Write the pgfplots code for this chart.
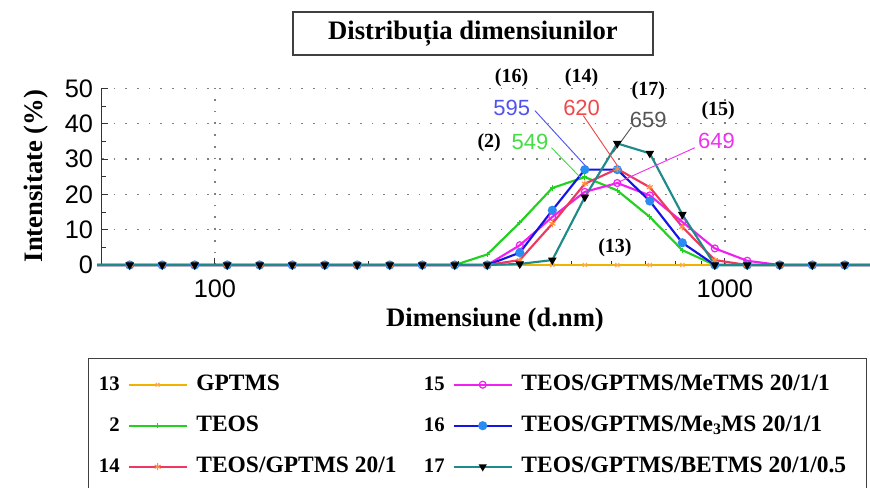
\documentclass[border=0pt]{standalone}
\usepackage{pgfplots}
\usepackage{pgfplotstable}
\pgfplotsset{compat=1.18}
\usepackage{fontspec}
\setmainfont{Liberation Serif}
\newfontfamily\arial{Liberation Sans}

\definecolor{cGPTMS}{HTML}{F2B300}
\definecolor{cGPTMSm}{HTML}{FFA860}
\definecolor{cTEOS}{HTML}{22D022}
\definecolor{cT14}{HTML}{EE3860}
\definecolor{cT14m}{HTML}{FF8A40}
\definecolor{cT15}{HTML}{F020F0}
\definecolor{cT16}{HTML}{1414E6}
\definecolor{cT16m}{HTML}{2A8CF0}
\definecolor{cT17}{HTML}{1F8A8A}
\definecolor{a595}{HTML}{5252EE}
\definecolor{a620}{HTML}{F04848}
\definecolor{a659}{HTML}{555555}
\definecolor{a649}{HTML}{EE33EE}
\definecolor{a549}{HTML}{44DD44}

% legend sample: sample number, short line and one mark
\pgfplotsset{
  numleg/.style={legend image code/.code={%
      \node[anchor=base east, inner sep=0pt, text height=, text depth=,
            font=\fontsize{15.5}{16}\selectfont\bfseries, text=black] at (-6pt,-4pt) {#1};
      \draw[mark repeat=2, mark phase=2, ##1] plot coordinates {(0pt,0pt) (21.75pt,0pt) (43.5pt,0pt)};
      \path (50pt,0pt);
  }},
  pl/.style={line width=1.6pt, mark indices={2,...,24}},
}
\tikzset{numleg/.style={}}

% intensity (%) per size class (d.nm)
\pgfplotstableread{
d      s13 s2    s14   s15   s16   s17
58.77  0   0     0     0     0     0
68.06  0   0     0     0     0     0
78.82  0   0     0     0     0     0
91.28  0   0     0     0     0     0
105.7  0   0     0     0     0     0
122.4  0   0     0     0     0     0
141.8  0   0     0     0     0     0
164.2  0   0     0     0     0     0
190.1  0   0     0     0     0     0
220.2  0   0     0     0     0     0
255.0  0   0     0     0     0     0
295.3  0   0     0     0     0     0
342.0  0   3.0   0     0     0     0
396.1  0   12.0  1.4   5.6   3.5   0.3
458.7  0   21.8  11.7  13.6  15.5  1.4
531.2  0   24.9  23.0  20.7  27.0  19.2
615.1  0   21.1  27.2  23.2  27.0  34.4
712.4  0   13.6  22.0  19.7  18.1  31.6
825.0  0   4.2   10.8  12.2  6.3   14.3
955.4  0   0     1.4   4.7   0     0
1106   0   0     0     1.2   0     0
1281   0   0     0     0     0     0
1484   0   0     0     0     0     0
1718   0   0     0     0     0     0
1990   0   0     0     0     0     0
}\sizedata

\begin{document}
\begin{tikzpicture}
\begin{axis}[
  at={(0pt,0pt)}, anchor=south west,
  scale only axis, width=575.4pt, height=132.5pt,
  xmode=log, xmin=60, xmax=1917, ymin=0, ymax=50,
  axis x line*=bottom, axis y line*=left,
  axis line style={black!80, line width=0.9pt},
  xtick={100,1000}, xticklabels={100,1000},
  ytick={0,10,...,50}, yticklabels={0,10,20,30,40,50},
  minor y tick num=1,
  tick align=inside,
  major tick length=5pt, minor tick length=3pt,
  tick style={black!80, line width=0.7pt},
  xmajorgrids, ymajorgrids,
  grid style={gray, line width=1pt, dash pattern=on 1.3pt off 7.5pt},
  clip=false,
  /pgf/number format/assume math mode=true,
  ticklabel style={font=\arial\fontsize{19}{21}\selectfont, text=black},
  yticklabel style={inner sep=0pt, xshift=-6.4pt},
  xticklabel style={inner sep=0pt, yshift=-11pt},
  xlabel={Dimensiune (d.nm)}, ylabel={Intensitate (\%)},
  label style={font=\fontsize{20}{24}\selectfont\bfseries},
  xlabel style={at={(axis description cs:0.5125,-0.3114)}, anchor=center},
  ylabel style={at={(axis description cs:-0.0858,0.504)}, anchor=center},
  legend columns=2,
  legend cell align=left,
  legend style={
    at={(axis description cs:-0.018,-0.5266)}, anchor=north west,
    draw=black!75, line width=1pt,
    inner xsep=7.7pt, inner ysep=11.5pt,
    column sep=0pt, row sep=14.75pt,
    font=\fontsize{17.6}{20}\selectfont\bfseries,
    nodes={inner sep=0pt, text height=12pt, text depth=4pt},
  },
]
% legend samples, two columns
\addlegendimage{numleg=13, color=cGPTMS, line width=1.6pt, mark=x, mark size=2pt, mark options={draw=cGPTMSm, line width=0.8pt}}
\addlegendentry{\makebox[170.7pt][l]{GPTMS}}
\addlegendimage{numleg=15, color=cT15, line width=1.6pt, mark=o, mark size=2.6pt, mark options={line width=0.9pt}}
\addlegendentry{\makebox[251pt][l]{TEOS/GPTMS/MeTMS 20/1/1}}
\addlegendimage{numleg=2, color=cTEOS, line width=1.6pt, mark=+, mark size=2pt, mark options={line width=0.8pt}}
\addlegendentry{\makebox[170.7pt][l]{TEOS}}
\addlegendimage{numleg=16, color=cT16, line width=1.6pt, mark=*, mark size=2.6pt, mark options={draw=cT16m, fill=cT16m}}
\addlegendentry{\makebox[251pt][l]{TEOS/GPTMS/Me\raisebox{-0.15em}{\fontsize{12}{12}\selectfont 3}MS 20/1/1}}
\addlegendimage{numleg=14, color=cT14, line width=1.6pt, mark=asterisk, mark size=2.6pt, mark options={draw=cT14m, line width=0.8pt}}
\addlegendentry{\makebox[170.7pt][l]{TEOS/GPTMS 20/1}}
\addlegendimage{numleg=17, color=cT17, line width=1.6pt, mark=triangle*, mark size=2pt, mark options={rotate=180, draw=black, fill=black}}
\addlegendentry{\makebox[251pt][l]{TEOS/GPTMS/BETMS 20/1/0.5}}

% size distributions
\addplot[pl, forget plot, color=cGPTMS, mark=x, mark size=2.2pt, mark options={draw=cGPTMSm, line width=0.8pt}] table[x=d, y=s13] {\sizedata};
\addplot[pl, forget plot, color=cTEOS, mark=+, mark size=2pt, mark options={line width=0.8pt}] table[x=d, y=s2] {\sizedata};
\addplot[pl, forget plot, color=cT15, mark=o, mark size=2.6pt, mark options={line width=0.9pt}] table[x=d, y=s15] {\sizedata};
\addplot[pl, forget plot, color=cT16, mark=*, mark size=2.6pt, mark options={draw=cT16m, fill=cT16m}] table[x=d, y=s16] {\sizedata};
\addplot[pl, forget plot, color=cT14, mark=asterisk, mark size=2.6pt, mark options={draw=cT14m, line width=0.8pt}] table[x=d, y=s14] {\sizedata};
\addplot[pl, forget plot, color=cT17, mark=triangle*, mark size=2.2pt, mark options={rotate=180, draw=black, fill=black}] table[x=d, y=s17] {\sizedata};

% peak labels
\tikzset{sid/.style={font=\fontsize{15}{17}\selectfont\bfseries, text=black},
         pk/.style={font=\arial\fontsize{16.5}{18}\selectfont}}
\node[sid] at (axis cs:381.6,53.0) {(16)};
\node[pk, text=a595] at (axis cs:382,44.4) {595};
\draw[a595, line width=0.7pt] (axis cs:424,43.7) -- (axis cs:538.8,27.3);
\node[sid] at (axis cs:523.6,53.0) {(14)};
\node[pk, text=a620] at (axis cs:523.6,44.4) {620};
\draw[a620, line width=0.7pt] (axis cs:527.6,42.3) -- (axis cs:614.9,28.2);
\node[sid] at (axis cs:707.5,49.3) {(17)};
\node[pk, text=a659] at (axis cs:707.5,41.0) {659};
\draw[a659, line width=0.7pt] (axis cs:656,39) -- (axis cs:604,31.9);
\node[sid] at (axis cs:970,43.7) {(15)};
\node[pk, text=a649] at (axis cs:963,35.0) {649};
\draw[a649, line width=0.7pt] (axis cs:873.5,33.2) -- (axis cs:608.7,23.0);
\node[sid] at (axis cs:345,34.7) {(2)};
\node[pk, text=a549] at (axis cs:414.6,34.7) {549};
\draw[a549, line width=0.7pt] (axis cs:457,33.2) -- (axis cs:519.7,24.9);
\node[sid] at (axis cs:608.7,4.8) {(13)};
\end{axis}

% chart title
\node[draw=black!75, line width=1.1pt, minimum width=270pt, minimum height=32.25pt,
      font=\fontsize{20}{24}\selectfont\bfseries] at (278.4pt,173.6pt) {Distribuția dimensiunilor};

\pgfresetboundingbox
\path[use as bounding box] (-76.35pt,-166.5pt) rectangle (576.15pt,198.75pt);
\end{tikzpicture}
\end{document}
